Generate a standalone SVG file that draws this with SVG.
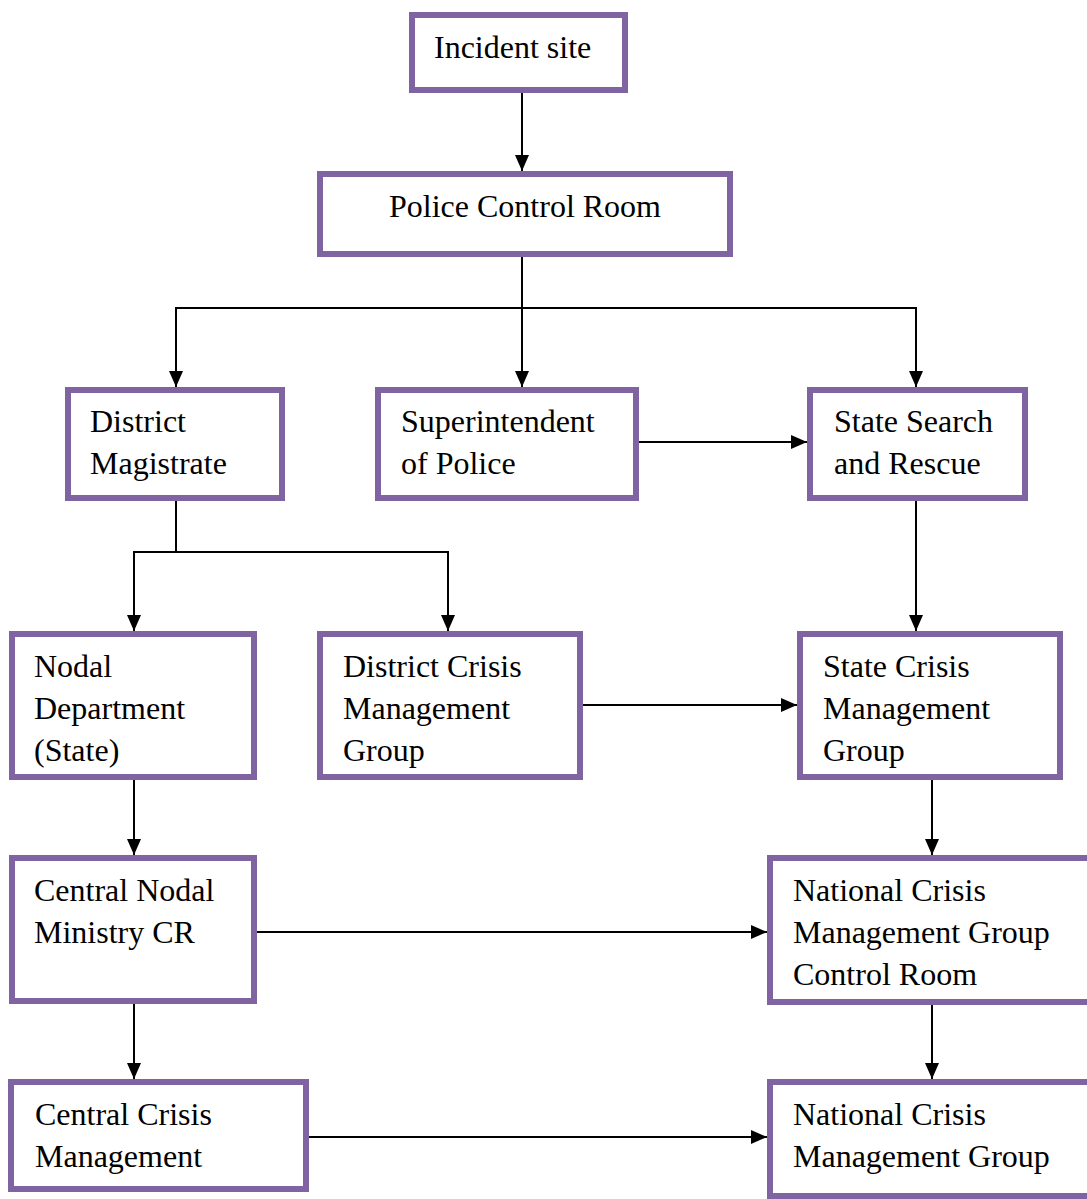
<svg xmlns="http://www.w3.org/2000/svg" width="1087" height="1199" viewBox="0 0 1087 1199">
<style>
.box{fill:#fff;stroke:#8064A2;stroke-width:6}
.t{font-family:"Liberation Serif","Times New Roman",serif;font-size:32px;fill:#000}
.c{fill:none;stroke:#000;stroke-width:2}
</style>
<defs>
<marker id="ah" markerUnits="userSpaceOnUse" markerWidth="16" markerHeight="14" viewBox="0 0 16 14" refX="16" refY="7" orient="auto">
<path d="M0,0 L16,7 L0,14 Z" fill="#000"/>
</marker>
</defs>
<rect width="1087" height="1199" fill="#fff"/>
<g id="connectors">
<path class="c" d="M522,93 V171" marker-end="url(#ah)"/>
<path class="c" d="M522,257 V387" marker-end="url(#ah)"/>
<path class="c" d="M176,308 H916"/>
<path class="c" d="M176,307 V387" marker-end="url(#ah)"/>
<path class="c" d="M916,307 V387" marker-end="url(#ah)"/>
<path class="c" d="M639,442 H807" marker-end="url(#ah)"/>
<path class="c" d="M176,501 V552"/>
<path class="c" d="M133,552 H449"/>
<path class="c" d="M134,551 V631" marker-end="url(#ah)"/>
<path class="c" d="M448,551 V631" marker-end="url(#ah)"/>
<path class="c" d="M916,500 V631" marker-end="url(#ah)"/>
<path class="c" d="M583,705 H797" marker-end="url(#ah)"/>
<path class="c" d="M932,780 V855" marker-end="url(#ah)"/>
<path class="c" d="M134,780 V855" marker-end="url(#ah)"/>
<path class="c" d="M257,932 H767" marker-end="url(#ah)"/>
<path class="c" d="M134,1004 V1079" marker-end="url(#ah)"/>
<path class="c" d="M932,1005 V1079" marker-end="url(#ah)"/>
<path class="c" d="M309,1137 H767" marker-end="url(#ah)"/>
</g>
<g id="incident"><rect class="box" x="412" y="15" width="213" height="75"/><text class="t" x="434" y="58">Incident site</text></g>
<g id="pcr"><rect class="box" x="320" y="174" width="410" height="80"/><text class="t" x="389" y="217">Police Control Room</text></g>
<g id="dm"><rect class="box" x="68" y="390" width="214" height="108"/><text class="t" x="90" y="432">District</text><text class="t" x="90" y="474">Magistrate</text></g>
<g id="sp"><rect class="box" x="378" y="390" width="258" height="108"/><text class="t" x="401" y="432">Superintendent</text><text class="t" x="401" y="474">of Police</text></g>
<g id="ssr"><rect class="box" x="810" y="390" width="215" height="108"/><text class="t" x="834" y="432">State Search</text><text class="t" x="834" y="474">and Rescue</text></g>
<g id="nodal"><rect class="box" x="12" y="634" width="242" height="143"/><text class="t" x="34" y="677">Nodal</text><text class="t" x="34" y="719">Department</text><text class="t" x="34" y="761">(State)</text></g>
<g id="dcmg"><rect class="box" x="320" y="634" width="260" height="143"/><text class="t" x="343" y="677">District Crisis</text><text class="t" x="343" y="719">Management</text><text class="t" x="343" y="761">Group</text></g>
<g id="scmg"><rect class="box" x="800" y="634" width="260" height="143"/><text class="t" x="823" y="677">State Crisis</text><text class="t" x="823" y="719">Management</text><text class="t" x="823" y="761">Group</text></g>
<g id="cnm"><rect class="box" x="12" y="858" width="242" height="143"/><text class="t" x="34" y="901">Central Nodal</text><text class="t" x="34" y="943">Ministry CR</text></g>
<g id="ncmgcr"><rect class="box" x="770" y="858" width="340" height="144"/><text class="t" x="793" y="901">National Crisis</text><text class="t" x="793" y="943">Management Group</text><text class="t" x="793" y="985">Control Room</text></g>
<g id="ccm"><rect class="box" x="11" y="1082" width="295" height="107"/><text class="t" x="35" y="1125">Central Crisis</text><text class="t" x="35" y="1167">Management</text></g>
<g id="ncmg"><rect class="box" x="770" y="1082" width="340" height="114"/><text class="t" x="793" y="1125">National Crisis</text><text class="t" x="793" y="1167">Management Group</text></g>
</svg>
